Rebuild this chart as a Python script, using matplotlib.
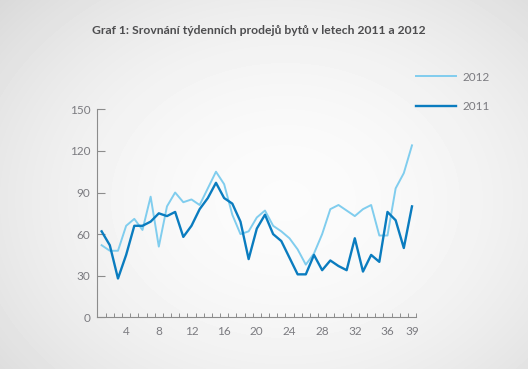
"""Weekly apartment sales, 2011 vs 2012."""

from matplotlib import pyplot
import numpy

weeks = list(range(1, 40))
sales_2012 = [52, 48, 48, 66, 71, 63, 87, 51, 80, 90, 83, 85, 81, 93, 105,
              96, 74, 60, 62, 72, 77, 66, 62, 57, 49, 38, 46, 60, 78, 81,
              77, 73, 78, 81, 59, 59, 93, 104, 124]
sales_2011 = [62, 52, 28, 45, 66, 66, 69, 75, 73, 76, 58, 66, 78, 86, 97,
              86, 82, 69, 42, 64, 74, 60, 55, 43, 31, 31, 45, 34, 41, 37,
              34, 57, 33, 45, 40, 76, 70, 50, 80]
xtick_labels = [4, 8, 12, 16, 20, 24, 28, 32, 36, 39]
yticks = [0, 30, 60, 90, 120, 150]

light = '#80cdee'
dark = '#0a7cbf'
gray = '#7b7b80'

pyplot.rc('font', family=['Lato', 'DejaVu Sans'], size=8.5)
fig = pyplot.figure(figsize=(5.28, 3.69), dpi=100)

# Radial grey background, lighter in the middle.
bg = fig.add_axes([0, 0, 1, 1], zorder=-10)
yy, xx = numpy.mgrid[0:369, 0:528]
r = numpy.hypot((xx - 285) / 330.0, (yy - 200) / 260.0)
shade = 0.985 - 0.1 * numpy.clip(r, 0, 1.2) ** 2
bg.imshow(shade, cmap='gray', vmin=0, vmax=1, aspect='auto',
          interpolation='bilinear')
bg.axis('off')

ax = fig.add_axes([0.1843, 0.140, 0.6037, 0.5638])
ax.patch.set_alpha(0)
ax.plot(weeks, sales_2012, color=light, linewidth=1.4, label='2012')
ax.plot(weeks, sales_2011, color=dark, linewidth=1.7, label='2011')
ax.set_xlim(0.47, 39.5)
ax.set_ylim(0, 150)

for side in ('top', 'right'):
    ax.spines[side].set_visible(False)
for side in ('left', 'bottom'):
    ax.spines[side].set_color('#8c8c8c')
    ax.spines[side].set_linewidth(0.8)

ax.set_yticks(yticks)
ax.tick_params(axis='y', direction='in', length=6, width=0.8,
               color='#8c8c8c', labelcolor=gray, pad=5)
ax.set_xticks(xtick_labels)
ax.set_xticklabels([str(w) for w in xtick_labels])
ax.tick_params(axis='x', which='major', length=0, labelcolor=gray, pad=6)
ax.set_xticks(numpy.arange(1.5, 40, 1.0), minor=True)
ax.tick_params(axis='x', which='minor', direction='in', length=3,
               width=0.7, color='#8c8c8c')

fig.text(0.4905, 0.918, 'Graf 1: Srovnání týdenních prodejů bytů v letech 2011 a 2012',
         ha='center', va='center', fontsize=8.7, fontweight='bold',
         color='#4d4d4f')

fig.legend(loc='upper left', bbox_to_anchor=(0.768, 0.835), frameon=False,
           handlelength=3.4, handletextpad=0.5, labelspacing=1.55,
           labelcolor=gray, fontsize=8.5)

fig.savefig('out.png', dpi=100)
